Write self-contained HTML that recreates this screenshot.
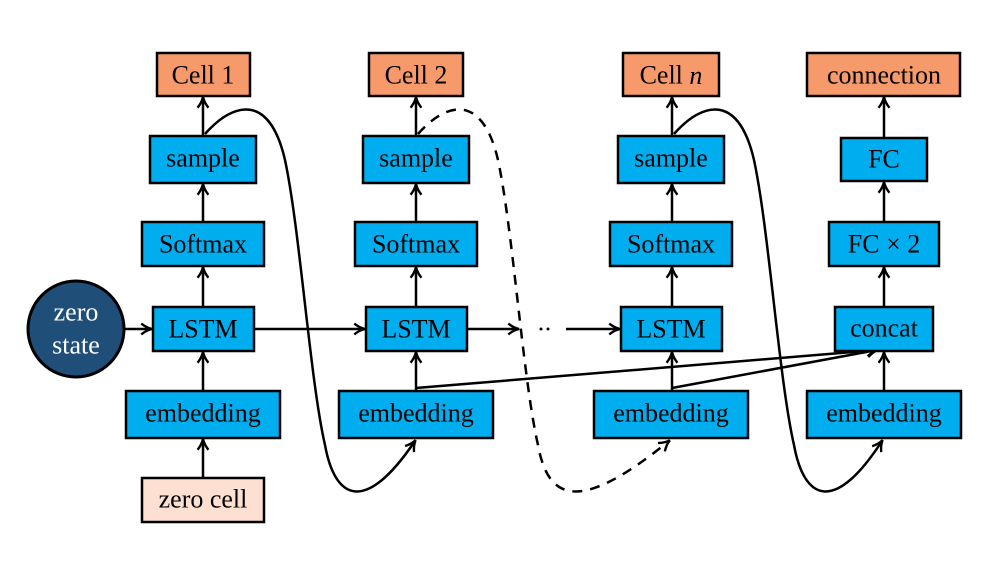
<!DOCTYPE html>
<html><head><meta charset="utf-8"><style>
html,body{margin:0;padding:0;background:#fff}
svg text{font-family:"Liberation Serif",serif;font-size:26px;fill:#000;text-anchor:middle;dominant-baseline:central}
</style></head><body>
<svg width="994" height="570" viewBox="0 0 994 570" xmlns="http://www.w3.org/2000/svg">
<defs>
<marker id="a" viewBox="0 0 12 12" refX="10" refY="6" markerWidth="13" markerHeight="13" markerUnits="userSpaceOnUse" orient="auto">
<path d="M1,1 Q6,5 11,6 Q6,7 1,11" fill="none" stroke="#000" stroke-width="2.2"/>
</marker>
</defs>
<g stroke="#000" stroke-width="2.5" fill="none">
<line x1="203" y1="136" x2="203" y2="98" marker-end="url(#a)"/>
<line x1="203" y1="222" x2="203" y2="185" marker-end="url(#a)"/>
<line x1="203" y1="307" x2="203" y2="268" marker-end="url(#a)"/>
<line x1="203" y1="391" x2="203" y2="353" marker-end="url(#a)"/>
<line x1="203" y1="478" x2="203" y2="440" marker-end="url(#a)"/>
<line x1="416" y1="136" x2="416" y2="98" marker-end="url(#a)"/>
<line x1="416" y1="222" x2="416" y2="185" marker-end="url(#a)"/>
<line x1="416" y1="307" x2="416" y2="268" marker-end="url(#a)"/>
<line x1="416" y1="391" x2="416" y2="353" marker-end="url(#a)"/>
<line x1="672" y1="136" x2="672" y2="98" marker-end="url(#a)"/>
<line x1="672" y1="222" x2="672" y2="185" marker-end="url(#a)"/>
<line x1="672" y1="307" x2="672" y2="268" marker-end="url(#a)"/>
<line x1="672" y1="391" x2="672" y2="353" marker-end="url(#a)"/>
<line x1="884" y1="138" x2="884" y2="98" marker-end="url(#a)"/>
<line x1="884" y1="222" x2="884" y2="183" marker-end="url(#a)"/>
<line x1="884" y1="307" x2="884" y2="268" marker-end="url(#a)"/>
<line x1="884" y1="391" x2="884" y2="353" marker-end="url(#a)"/>
<line x1="125" y1="329" x2="151" y2="329" marker-end="url(#a)"/>
<line x1="254" y1="329" x2="364" y2="329" marker-end="url(#a)"/>
<line x1="467" y1="329" x2="518" y2="329" marker-end="url(#a)"/>
<line x1="566" y1="329" x2="619" y2="329" marker-end="url(#a)"/>
<line x1="416" y1="388" x2="877" y2="350" marker-end="url(#a)"/>
<line x1="672" y1="388" x2="877" y2="350" marker-end="url(#a)"/>
<path d="M205,134 C235,100 270,95 285,160 C300,230 310,380 325,445 C335,500 365,515 415,441" marker-end="url(#a)"/>
<path d="M418,134 C448,100 483,95 498,160 C513,230 523,380 538,445 C548,500 578,515 669,441" stroke-dasharray="10,8" marker-end="url(#a)"/>
<path d="M674,134 C704,100 739,95 754,160 C769,230 779,380 794,445 C804,500 834,515 882,441" marker-end="url(#a)"/>
</g>
<circle cx="541" cy="329" r="1.5" fill="#000"/>
<circle cx="548" cy="329" r="1.5" fill="#000"/>
<g stroke="#000" stroke-width="2.5">
<rect x="157" y="53" width="93" height="43" fill="#F79A6B"/>
<rect x="369" y="53" width="94" height="43" fill="#F79A6B"/>
<rect x="623" y="53" width="96" height="43" fill="#F79A6B"/>
<rect x="807" y="53" width="153" height="43" fill="#F79A6B"/>
<rect x="150" y="136" width="106" height="47" fill="#00AEEF"/>
<rect x="363" y="136" width="106" height="47" fill="#00AEEF"/>
<rect x="618" y="136" width="106" height="47" fill="#00AEEF"/>
<rect x="841" y="138" width="86" height="43" fill="#00AEEF"/>
<rect x="142" y="222" width="122" height="44" fill="#00AEEF"/>
<rect x="355" y="222" width="122" height="44" fill="#00AEEF"/>
<rect x="610" y="222" width="122" height="44" fill="#00AEEF"/>
<rect x="829" y="222" width="110" height="44" fill="#00AEEF"/>
<rect x="153" y="307" width="101" height="44" fill="#00AEEF"/>
<rect x="366" y="307" width="101" height="44" fill="#00AEEF"/>
<rect x="621" y="307" width="101" height="44" fill="#00AEEF"/>
<rect x="835" y="307" width="98" height="44" fill="#00AEEF"/>
<rect x="126" y="391" width="154" height="47" fill="#00AEEF"/>
<rect x="339" y="391" width="154" height="47" fill="#00AEEF"/>
<rect x="594" y="391" width="154" height="47" fill="#00AEEF"/>
<rect x="807" y="391" width="154" height="47" fill="#00AEEF"/>
<rect x="142" y="478" width="122" height="44" fill="#FDE0D2"/>
<circle cx="76" cy="329" r="48" fill="#1F4E79" stroke-width="3"/>
</g>
<text x="203" y="75">Cell 1</text>
<text x="416" y="75">Cell 2</text>
<text x="671" y="75">Cell <tspan font-style="italic">n</tspan></text>
<text x="884" y="75">connection</text>
<text x="203" y="158">sample</text>
<text x="416" y="158">sample</text>
<text x="671" y="158">sample</text>
<text x="884" y="159">FC</text>
<text x="203" y="244">Softmax</text>
<text x="416" y="244">Softmax</text>
<text x="671" y="244">Softmax</text>
<text x="884" y="244">FC × 2</text>
<text x="203" y="329">LSTM</text>
<text x="416" y="329">LSTM</text>
<text x="671" y="329">LSTM</text>
<text x="884" y="328">concat</text>
<text x="203" y="413">embedding</text>
<text x="416" y="413">embedding</text>
<text x="671" y="413">embedding</text>
<text x="884" y="413">embedding</text>
<text x="203" y="499">zero cell</text>
<text x="76" y="312" style="fill:#fff">zero</text>
<text x="76" y="345" style="fill:#fff">state</text>
</svg>
</body></html>
